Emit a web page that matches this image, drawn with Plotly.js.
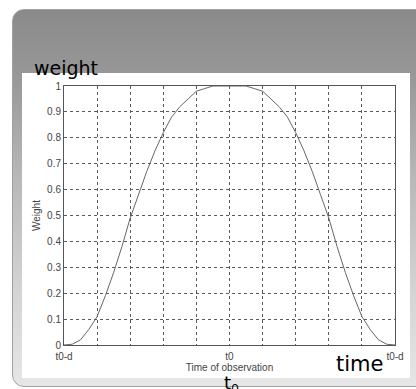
<!DOCTYPE html>
<html>
<head>
<meta charset="utf-8">
<script src="https://cdn.plot.ly/plotly-3.0.1.min.js"></script>
<style>
  html, body { margin:0; padding:0; background:#ffffff; }
  body { width:416px; height:389px; overflow:hidden; position:relative; }
  #panel { position:absolute; left:12px; top:9px; width:430px; height:378px; border-radius:12px;
           background:linear-gradient(to bottom, #8a8a8a 0%, #989898 18%, #b8b8b8 45%, #d4d4d4 75%, #e6e6e6 100%);
           border:1px solid #a0a0a0; box-sizing:border-box; }
  #inner { position:absolute; left:22px; top:73px; width:388px; height:305px; background:#ffffff; }
  #chart { position:absolute; left:0; top:0; width:416px; height:389px; }
</style>
</head>
<body>
<div id="panel"></div>
<div id="inner"></div>
<div id="chart"></div>
<script>
// Data
var timeVals = [0, 0.25, 0.5, 0.75, 1, 1.25, 1.5, 1.75, 2, 2.25, 2.5, 2.75, 3, 3.25, 3.5, 3.75, 4, 4.25, 4.5, 4.75, 5,
                5.25, 5.5, 5.75, 6, 6.25, 6.5, 6.75, 7, 7.25, 7.5, 7.75, 8, 8.25, 8.5, 8.75, 9, 9.25, 9.5, 9.75, 10];
var weightVals = [0, 0.003, 0.02, 0.06, 0.11, 0.19, 0.28, 0.38, 0.49, 0.58, 0.67, 0.75, 0.82, 0.88, 0.92, 0.95, 0.98, 0.99, 1.0, 1.0, 1.0,
                  1.0, 1.0, 0.99, 0.98, 0.95, 0.92, 0.88, 0.82, 0.75, 0.67, 0.58, 0.49, 0.38, 0.28, 0.19, 0.11, 0.06, 0.02, 0.003, 0];
var xTickVals = [0, 5, 10];
var xTickText = ["t0-d", "t0", "t0-d"];
var yTickVals = [0, 0.1, 0.2, 0.3, 0.4, 0.5, 0.6, 0.7, 0.8, 0.9, 1];
var yTickText = ["0", "0.1", "0.2", "0.3", "0.4", "0.5", "0.6", "0.7", "0.8", "0.9", "1"];

var W = 416, H = 389;
var L = 64, R = 21, T = 86, B = 44;
var pw = W - L - R, ph = H - T - B;
function px(x) { return (x - L) / pw; }
function py(y) { return (H - B - y) / ph; }

var tickFont = { family: "Liberation Sans, Arial, sans-serif", size: 10, color: "#444444" };
var gridColor = "#5a5a5a";

var trace = {
  x: timeVals, y: weightVals, type: "scatter", mode: "lines",
  line: { color: "#666666", width: 1 }, hoverinfo: "skip"
};

var axisCommon = {
  showline: true, mirror: true, linecolor: "#555555", linewidth: 1,
  showgrid: true, gridcolor: gridColor, gridwidth: 1, griddash: "dot",
  zeroline: false, ticks: "", tickfont: tickFont, fixedrange: true
};

var layout = {
  width: W, height: H,
  margin: { l: L, r: R, t: T, b: B, pad: 0 },
  paper_bgcolor: "rgba(0,0,0,0)", plot_bgcolor: "#ffffff",
  showlegend: false,
  xaxis: Object.assign({}, axisCommon, {
    range: [0, 10], tickmode: "array", tickvals: xTickVals, ticktext: xTickText,
    ticklabelstandoff: 2,
    minor: { dtick: 1, tick0: 0, showgrid: true, gridcolor: gridColor, gridwidth: 1, griddash: "dot", ticks: "" },
    title: { text: "Time of observation", font: tickFont, standoff: 2 }
  }),
  yaxis: Object.assign({}, axisCommon, {
    range: [0, 1], tickmode: "array", tickvals: yTickVals, ticktext: yTickText,
    title: { text: "Weight", font: tickFont, standoff: 4 }
  }),
  annotations: [
    { text: "weight", xref: "paper", yref: "paper", x: px(32), y: py(68), xanchor: "left", yanchor: "middle",
      showarrow: false, font: { family: "DejaVu Sans, sans-serif", size: 19, color: "#000000" } },
    { text: "time", xref: "paper", yref: "paper", x: px(359), y: py(364), xanchor: "center", yanchor: "middle",
      showarrow: false, font: { family: "DejaVu Sans, sans-serif", size: 21, color: "#000000" } },
    { text: "t<sub>0</sub>", xref: "paper", yref: "paper", x: px(231), y: py(369.5), xanchor: "center", yanchor: "top",
      showarrow: false, font: { family: "DejaVu Sans, sans-serif", size: 18, color: "#000000" } }
  ]
};

Plotly.newPlot("chart", [trace], layout, { staticPlot: true, displayModeBar: false });
</script>
</body>
</html>
